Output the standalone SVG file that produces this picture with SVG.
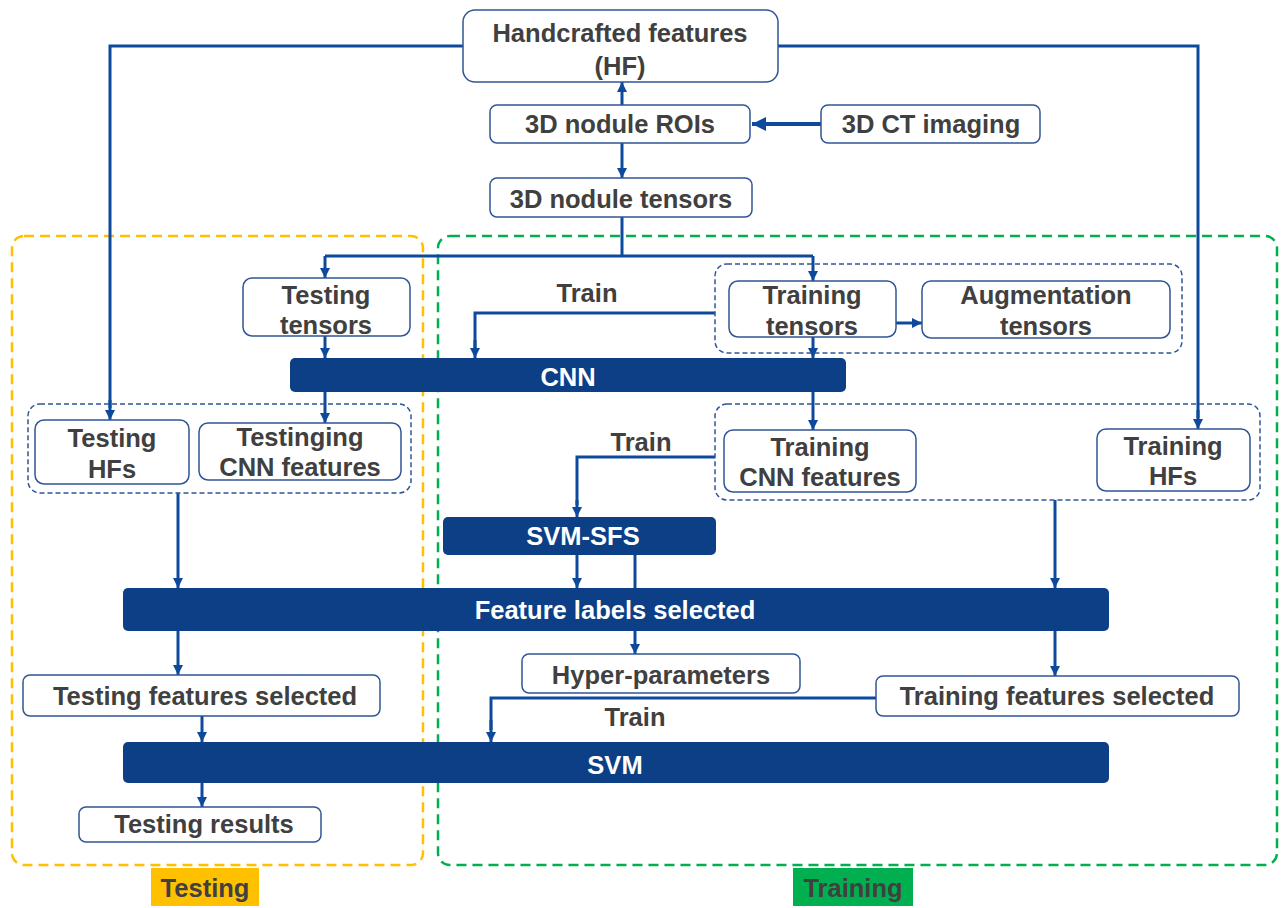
<svg xmlns="http://www.w3.org/2000/svg" width="1287" height="908" viewBox="0 0 1287 908">
<defs>
<marker id="ah" viewBox="0 0 10 10" refX="10" refY="5" markerWidth="10" markerHeight="10" markerUnits="userSpaceOnUse" orient="auto">
<path d="M0,0 L10,5 L0,10 z" fill="#0E4A9C"/>
</marker>
<marker id="ahb" viewBox="0 0 10 10" refX="10" refY="5" markerWidth="14" markerHeight="14" markerUnits="userSpaceOnUse" orient="auto">
<path d="M0,0 L10,5 L0,10 z" fill="#0E4A9C"/>
</marker>
</defs>
<style>
.box{fill:#fff;stroke:#2F5597;stroke-width:1.5}
.bar{fill:#0C3F86}
.grp{fill:none;stroke:#2F5597;stroke-width:1.5;stroke-dasharray:5,3}
.t{font-family:"Liberation Sans",Arial,sans-serif;font-weight:bold;font-size:25.5px;fill:#404040;text-anchor:middle}
.w{fill:#fff}
.c{fill:none;stroke:#0E4A9C;stroke-width:3}
.ca{fill:none;stroke:#0E4A9C;stroke-width:3;marker-end:url(#ah)}
</style>
<rect width="1287" height="908" fill="#fff"/>

<!-- regions -->
<g id="testing-region">
<rect x="12" y="236" width="411" height="629" rx="12" fill="none" stroke="#FFC000" stroke-width="2.5" stroke-dasharray="10,6"/>
<rect x="151" y="868" width="108" height="38" fill="#FFC000"/>
<text class="t" x="205" y="897">Testing</text>
</g>
<g id="training-region">
<rect x="438" y="236" width="839" height="629" rx="12" fill="none" stroke="#00B050" stroke-width="2.5" stroke-dasharray="10,6"/>
<rect x="793" y="868" width="120" height="38" fill="#00B050"/>
<text class="t" x="853" y="897">Training</text>
</g>

<!-- connectors -->
<g id="connectors">
<path class="c" d="M463,46 H110 V408"/>
<path class="ca" d="M110,400 V420"/>
<path class="c" d="M778,46 H1198 V418"/>
<path class="ca" d="M1198,410 V429"/>
<path class="ca" d="M622,105 V82"/>
<path d="M821,124 H752" fill="none" stroke="#0E4A9C" stroke-width="4" marker-end="url(#ahb)"/>
<path class="ca" d="M622,143 V178"/>
<path class="c" d="M622,217 V256"/>
<path class="c" d="M325,256 H813"/>
<path class="ca" d="M325,256 V278"/>
<path class="ca" d="M813,256 V281"/>
<path class="ca" d="M896,323 H922"/>
<path class="c" d="M715,313 H475 V350"/>
<path class="ca" d="M475,340 V358"/>
<path class="ca" d="M325,336 V358"/>
<path class="ca" d="M813,337 V358"/>
<path class="ca" d="M325,392 V423"/>
<path class="ca" d="M813,392 V430"/>
<path class="c" d="M715,457 H577 V505"/>
<path class="ca" d="M577,500 V517"/>
<path class="ca" d="M577,555 V588"/>
<path class="c" d="M635,555 V588"/>
<path class="ca" d="M635,631 V654"/>
<path class="ca" d="M178,493 V588"/>
<path class="ca" d="M1055,500 V588"/>
<path class="ca" d="M178,631 V675"/>
<path class="ca" d="M1055,631 V676"/>
<path class="c" d="M876,698 H491 V730"/>
<path class="ca" d="M491,720 V742"/>
<path class="ca" d="M202,716 V742"/>
<path class="ca" d="M202,783 V807"/>
<text class="t" x="587" y="302">Train</text>
<text class="t" x="641" y="451">Train</text>
<text class="t" x="635" y="726">Train</text>
</g>

<!-- nodes -->
<g id="hf"><rect class="box" x="463" y="10" width="315" height="72" rx="12"/><text class="t" x="620" y="42">Handcrafted features</text><text class="t" x="620" y="75">(HF)</text></g>
<g id="rois"><rect class="box" x="490" y="105" width="260" height="38" rx="7"/><text class="t" x="620" y="133">3D nodule ROIs</text></g>
<g id="ct"><rect class="box" x="821" y="105" width="219" height="38" rx="7"/><text class="t" x="931" y="133">3D CT imaging</text></g>
<g id="tensors"><rect class="box" x="490" y="178" width="262" height="39" rx="7"/><text class="t" x="621" y="208">3D nodule tensors</text></g>

<g id="testing-tensors"><rect class="box" x="243" y="278" width="167" height="58" rx="9"/><text class="t" x="326" y="304">Testing</text><text class="t" x="326" y="334">tensors</text></g>
<g id="training-group"><rect class="grp" x="715" y="264" width="467" height="89" rx="12"/></g>
<g id="training-tensors"><rect class="box" x="729" y="281" width="167" height="56" rx="9"/><text class="t" x="812" y="304">Training</text><text class="t" x="812" y="335">tensors</text></g>
<g id="augmentation"><rect class="box" x="922" y="281" width="248" height="57" rx="9"/><text class="t" x="1046" y="304">Augmentation</text><text class="t" x="1046" y="335">tensors</text></g>

<g id="cnn"><rect class="bar" x="290" y="358" width="556" height="34" rx="5"/><text class="t w" x="568" y="386">CNN</text></g>

<g id="testing-feature-group"><rect class="grp" x="28" y="404" width="383" height="89" rx="12"/></g>
<g id="testing-hfs"><rect class="box" x="35" y="420" width="154" height="64" rx="9"/><text class="t" x="112" y="447">Testing</text><text class="t" x="112" y="478">HFs</text></g>
<g id="testing-cnn"><rect class="box" x="199" y="423" width="202" height="57" rx="9"/><text class="t" x="300" y="446">Testinging</text><text class="t" x="300" y="476">CNN features</text></g>

<g id="training-feature-group"><rect class="grp" x="715" y="404" width="545" height="96" rx="12"/></g>
<g id="training-cnn"><rect class="box" x="724" y="430" width="192" height="62" rx="9"/><text class="t" x="820" y="456">Training</text><text class="t" x="820" y="486">CNN features</text></g>
<g id="training-hfs"><rect class="box" x="1097" y="429" width="153" height="62" rx="9"/><text class="t" x="1173" y="455">Training</text><text class="t" x="1173" y="485">HFs</text></g>

<g id="svm-sfs"><rect class="bar" x="443" y="517" width="273" height="38" rx="5"/><text class="t w" x="583" y="545">SVM-SFS</text></g>
<g id="feature-labels"><rect class="bar" x="123" y="588" width="986" height="43" rx="5"/><text class="t w" x="615" y="619">Feature labels selected</text></g>

<g id="hyper"><rect class="box" x="522" y="654" width="278" height="39" rx="7"/><text class="t" x="661" y="684">Hyper-parameters</text></g>
<g id="testing-selected"><rect class="box" x="23" y="675" width="357" height="41" rx="7"/><text class="t" x="205" y="705">Testing features selected</text></g>
<g id="training-selected"><rect class="box" x="876" y="676" width="363" height="40" rx="7"/><text class="t" x="1057" y="705">Training features selected</text></g>

<g id="svm"><rect class="bar" x="123" y="742" width="986" height="41" rx="5"/><text class="t w" x="615" y="774">SVM</text></g>
<g id="testing-results"><rect class="box" x="79" y="807" width="242" height="35" rx="7"/><text class="t" x="204" y="833">Testing results</text></g>
</svg>
